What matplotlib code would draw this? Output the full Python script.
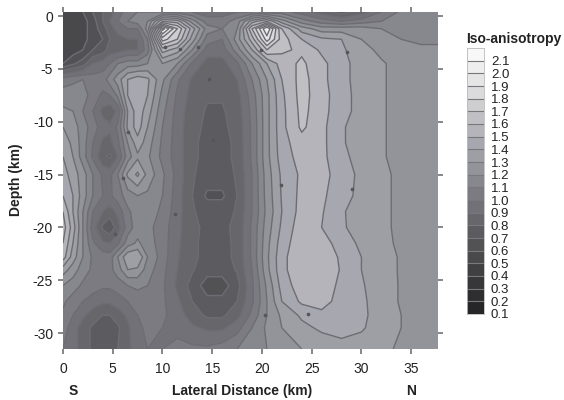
import numpy as np
import matplotlib
matplotlib.use('Agg')
import matplotlib.pyplot as plt
from matplotlib.colors import LinearSegmentedColormap, BoundaryNorm

plt.rcParams['font.family'] = ['Liberation Sans', 'DejaVu Sans']

# values
lateral_km = [0, 1, 2, 3, 4, 4.7, 5.5, 6.5, 7.5, 8.5, 10, 11.5, 13, 14.5, 16, 17.5, 19, 20.5, 22, 24, 26, 28, 30, 32, 34, 36, 37.7]
depth_km = [0.38, -0.5, -1.2, -2.2, -3.2, -4.5, -6, -7.5, -9, -10.5, -12, -13.3, -15, -17, -18.5, -20, -21.5, -22.8, -24, -25.5, -27, -28.3, -29.5, -31.5]
iso = [
    [.55, .55, .60, .70, .80, .85, .95, 1.05, 1.1, 1.1, 1.1, 1.05, 1.0, .95, .95, 1.0, 1.0, 1.05, 1.05, .95, .85, .75, .85, 1.0, 1.12, 1.15, 1.15],
    [.53, .53, .56, .65, .80, .90, 1.0, 1.1, 1.15, 1.2, 1.6, 1.55, 1.25, 1.05, 1.05, 1.15, 1.45, 1.6, 1.35, 1.15, 1.05, 1.0, 1.05, 1.1, 1.15, 1.18, 1.18],
    [.53, .53, .56, .65, .75, .85, .95, 1.0, 1.0, 1.25, 2.15, 1.8, 1.45, 1.15, 1.1, 1.2, 1.7, 2.1, 1.6, 1.35, 1.25, 1.25, 1.25, 1.2, 1.18, 1.18, 1.18],
    [.53, .53, .56, .65, .70, .80, .85, .9, .9, 1.1, 1.85, 1.7, 1.35, 1.05, 1.0, 1.25, 1.55, 1.95, 1.65, 1.5, 1.42, 1.4, 1.3, 1.25, 1.2, 1.18, 1.18],
    [.54, .55, .60, .70, .75, .85, .85, .9, .9, 1.05, 1.55, 1.45, 1.2, .95, .95, 1.15, 1.4, 1.7, 1.62, 1.58, 1.48, 1.42, 1.33, 1.28, 1.25, 1.22, 1.22],
    [.60, .68, .75, .90, .95, 1.0, 1.1, 1.15, 1.15, 1.2, 1.3, 1.2, .98, .86, .86, .98, 1.2, 1.4, 1.55, 1.62, 1.53, 1.43, 1.36, 1.31, 1.27, 1.25, 1.25],
    [1.05, 1.08, 1.1, 1.05, 1.05, 1.15, 1.25, 1.4, 1.46, 1.42, 1.22, 1.02, .88, .84, .84, .9, 1.1, 1.3, 1.5, 1.64, 1.53, 1.43, 1.36, 1.31, 1.27, 1.25, 1.25],
    [1.15, 1.15, 1.15, 1.05, .98, 1.0, 1.12, 1.4, 1.47, 1.4, 1.17, .98, .86, .81, .81, .86, 1.05, 1.27, 1.48, 1.64, 1.54, 1.44, 1.36, 1.31, 1.27, 1.25, 1.25],
    [1.22, 1.2, 1.1, 1.0, .87, .83, .92, 1.3, 1.46, 1.35, 1.13, .96, .84, .79, .79, .84, 1.03, 1.27, 1.47, 1.63, 1.54, 1.43, 1.37, 1.31, 1.27, 1.25, 1.25],
    [1.3, 1.25, 1.15, 1.05, .95, .92, 1.02, 1.32, 1.45, 1.3, 1.1, .95, .83, .78, .78, .83, 1.02, 1.27, 1.47, 1.62, 1.53, 1.41, 1.36, 1.31, 1.27, 1.25, 1.25],
    [1.35, 1.28, 1.15, 1.0, .88, .87, .97, 1.2, 1.36, 1.25, 1.08, .95, .82, .77, .77, .82, 1.02, 1.27, 1.46, 1.56, 1.53, 1.41, 1.36, 1.31, 1.27, 1.25, 1.25],
    [1.4, 1.3, 1.15, .98, .82, .78, .9, 1.15, 1.28, 1.22, 1.07, .95, .82, .77, .77, .82, 1.02, 1.27, 1.45, 1.54, 1.53, 1.42, 1.37, 1.31, 1.27, 1.25, 1.25],
    [1.45, 1.35, 1.25, 1.1, .98, .97, 1.1, 1.32, 1.42, 1.27, 1.12, .96, .81, .76, .76, .81, 1.0, 1.25, 1.42, 1.52, 1.53, 1.46, 1.37, 1.32, 1.28, 1.26, 1.25],
    [1.5, 1.4, 1.25, 1.1, 1.0, .98, 1.05, 1.15, 1.2, 1.18, 1.1, .95, .8, .68, .68, .8, 1.0, 1.24, 1.41, 1.53, 1.52, 1.44, 1.37, 1.32, 1.28, 1.26, 1.25],
    [1.6, 1.4, 1.2, 1.0, .9, .85, .93, 1.08, 1.15, 1.15, 1.08, .94, .81, .76, .76, .81, 1.0, 1.23, 1.4, 1.54, 1.51, 1.41, 1.36, 1.32, 1.28, 1.26, 1.25],
    [1.65, 1.45, 1.2, .95, .78, .72, .85, 1.05, 1.15, 1.13, 1.05, .93, .82, .78, .78, .82, 1.02, 1.25, 1.42, 1.56, 1.5, 1.41, 1.37, 1.32, 1.28, 1.26, 1.25],
    [1.6, 1.4, 1.2, 1.02, .92, .9, .98, 1.15, 1.22, 1.15, 1.05, .92, .82, .77, .77, .82, 1.02, 1.27, 1.45, 1.57, 1.55, 1.45, 1.38, 1.33, 1.28, 1.26, 1.25],
    [1.55, 1.35, 1.2, 1.08, 1.05, 1.05, 1.2, 1.38, 1.4, 1.2, 1.05, .91, .82, .77, .77, .82, 1.02, 1.28, 1.47, 1.58, 1.58, 1.48, 1.4, 1.34, 1.29, 1.26, 1.25],
    [1.35, 1.25, 1.15, 1.08, 1.05, 1.07, 1.15, 1.3, 1.28, 1.15, 1.03, .9, .81, .74, .74, .81, 1.0, 1.27, 1.47, 1.58, 1.58, 1.49, 1.4, 1.34, 1.29, 1.26, 1.25],
    [1.2, 1.15, 1.08, 1.05, 1.02, 1.02, 1.05, 1.1, 1.12, 1.1, 1.02, .88, .76, .65, .65, .76, .98, 1.22, 1.44, 1.56, 1.57, 1.47, 1.41, 1.35, 1.29, 1.26, 1.25],
    [1.12, 1.05, 1.0, .95, .92, .92, .95, 1.0, 1.05, 1.07, 1.02, .92, .8, .73, .73, .8, .98, 1.2, 1.4, 1.52, 1.53, 1.47, 1.42, 1.35, 1.29, 1.26, 1.25],
    [1.08, 1.0, .92, .85, .8, .8, .85, .92, 1.0, 1.05, 1.02, .95, .85, .78, .78, .86, 1.03, 1.2, 1.32, 1.42, 1.48, 1.45, 1.42, 1.36, 1.3, 1.27, 1.25],
    [1.05, .95, .85, .78, .72, .7, .78, .88, .97, 1.03, 1.0, .98, .92, .88, .88, .96, 1.1, 1.22, 1.3, 1.37, 1.42, 1.44, 1.41, 1.36, 1.3, 1.27, 1.25],
    [1.0, .95, .85, .78, .75, .75, .8, .88, .95, 1.0, 1.0, 1.02, 1.02, 1.02, 1.05, 1.1, 1.15, 1.2, 1.25, 1.3, 1.33, 1.36, 1.36, 1.33, 1.28, 1.26, 1.25],
]
station_x = [10.3, 11.8, 13.6, 19.9, 28.6, 14.7, 6.5, 15.1, 6.0, 11.3, 21.9, 29.1, 5.2, 20.3, 24.6]
station_y = [-2.9, -3.1, -2.9, -3.2, -3.4, -6.0, -11.0, -11.7, -15.3, -18.7, -16.0, -16.4, -20.6, -28.3, -28.2]
levels = [round(0.1 * i, 1) for i in range(1, 23)]
bar_labels = ['%.1f' % v for v in levels[:-1]]

grey_stops = [(0.0, '#262628'), (0.15, '#404042'), (0.3, '#5c5c60'), (0.45, '#7c7c82'), (0.55, '#93939a'),
              (0.65, '#a8a8b0'), (0.75, '#c0c0c4'), (0.85, '#dcdcde'), (1.0, '#f8f8f8')]
cmap = LinearSegmentedColormap.from_list('iso', grey_stops)
norm = BoundaryNorm(levels, cmap.N)
line_col = '#6c6c72'

fig = plt.figure(figsize=(5.64, 4), dpi=100)
W, H = 564.0, 400.0
ax = fig.add_axes([63 / W, 1 - 349 / H, 375 / W, 337 / H])
ax.contourf(lateral_km, depth_km, iso, levels=levels, cmap=cmap, norm=norm, extend='both')
ax.contour(lateral_km, depth_km, iso, levels=levels, colors=line_col, linewidths=1.0)
ax.scatter(station_x, station_y, s=7, c='#55555a', linewidths=0, zorder=3)
ax.set_xlim(0, 37.7)
ax.set_ylim(-31.5, 0.38)
ax.set_xticks([0, 5, 10, 15, 20, 25, 30, 35])
ax.set_yticks([0, -5, -10, -15, -20, -25, -30])
ax.set_yticklabels(['0', '-5', '-10', '-15', '-20', '-25', '-30'])
ax.tick_params(direction='out', length=3.6, width=1.1, color='#666666', top=True, right=True, labelsize=10,
               labelcolor='#222222')
ax.tick_params(axis='x', pad=5.5)
ax.tick_params(axis='y', pad=3.6)
for s in ax.spines.values():
    s.set_visible(False)
label_style = dict(ha='center', va='center', fontsize=10, fontweight='bold', color='#222222')
fig.text(242 / W, 1 - 391 / H, 'Lateral Distance (km)', **label_style)
fig.text(73 / W, 1 - 391 / H, 'S', **label_style)
fig.text(411 / W, 1 - 391 / H, 'N', **label_style)
fig.text(16 / W, 1 - 180 / H, 'Depth (km)', rotation=90, **label_style)

# legend bar
cax = fig.add_axes([467 / W, 1 - 314 / H, 17 / W, 266 / H])
cax.pcolormesh([0, 1], levels, np.array(levels[:-1]).reshape(-1, 1) + 0.05, cmap=cmap, norm=norm)
cax.hlines(levels[1:-1], 0, 1, colors='#77777c', linewidth=0.8)
cax.set_xlim(0, 1)
cax.set_ylim(0.1, 2.2)
cax.set_xticks([])
cax.yaxis.tick_right()
cax.set_yticks(levels[:-1])
cax.set_yticklabels(bar_labels)
cax.tick_params(length=0, labelsize=9.5, pad=5, labelcolor='#222222')
for s in cax.spines.values():
    s.set_color('#bbbbbb')
    s.set_linewidth(0.6)
fig.text(466 / W, 1 - 39 / H, 'Iso-anisotropy', ha='left', va='center', fontsize=10, fontweight='bold', color='#222222')

fig.savefig('out.png', dpi=100)
